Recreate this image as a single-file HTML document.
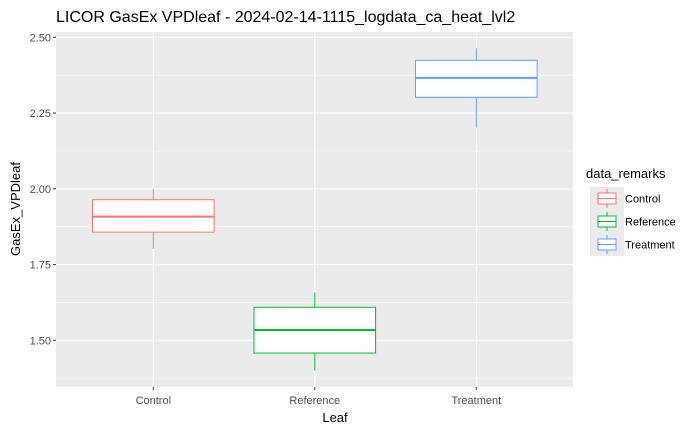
<!DOCTYPE html>
<html><head><meta charset="utf-8"><style>
body{margin:0;background:#fff}
svg{display:block;font-family:"Liberation Sans",Arial,sans-serif}
</style></head><body>
<svg id="chart" width="700" height="432">
<rect x="0" y="0" width="700" height="432" fill="#fff"/>
<text x="56" y="22" font-size="16" fill="#000">LICOR GasEx VPDleaf - 2024-02-14-1115_logdata_ca_heat_lvl2</text>
<rect x="56" y="32" width="517" height="355" fill="#ebebeb"/>
<g id="grid"></g>
<g id="boxes"></g>
<g id="axes"></g>
<text x="335" y="422" font-size="13" text-anchor="middle" fill="#000">Leaf</text>
<text transform="translate(20,209) rotate(-90)" font-size="13" text-anchor="middle" fill="#000">GasEx_VPDleaf</text>
<g id="legend">
<text x="586" y="178" font-size="13" fill="#000">data_remarks</text>
</g>
</svg>
<script>
const categories=["Control","Reference","Treatment"];
const colors=["#F8766D","#00BA38","#619CFF"];
const whiskerLow=[1.802,1.400,2.202];
const q1=[1.857,1.458,2.302];
const median=[1.908,1.534,2.366];
const q3=[1.964,1.609,2.424];
const whiskerHigh=[2.000,1.658,2.464];
const yTicks=[1.50,1.75,2.00,2.25,2.50];
const yTickLabels=["1.50","1.75","2.00","2.25","2.50"];
const NS="http://www.w3.org/2000/svg";
const panelL=56,panelR=573,panelT=32,panelB=387;
function y(v){return 340.3-(v-1.5)*303;}
function x(i){return 153.3+i*161.5;}
const bw=121.6;
function mk(p,tag,a){const e=document.createElementNS(NS,tag);for(const k in a)e.setAttribute(k,a[k]);p.appendChild(e);return e;}
const grid=document.getElementById('grid'),boxes=document.getElementById('boxes'),axes=document.getElementById('axes'),legend=document.getElementById('legend');
// minor gridlines
for(let i=0;i<yTicks.length+1;i++){
  const v=yTicks[0]-0.125+i*0.25;
  const yy=y(v);
  if(yy<panelT||yy>panelB)continue;
  const l=mk(grid,'line',{x1:panelL,x2:panelR,y1:yy,y2:yy,stroke:'#fff','stroke-width':0.6});
  
  
}
yTicks.forEach((v,i)=>{
  const yy=y(v);
  const l=mk(grid,'line',{x1:panelL,x2:panelR,y1:yy,y2:yy,stroke:'#fff','stroke-width':1.1});
  
  
  const t=mk(axes,'line',{x1:panelL-3,x2:panelL,y1:yy,y2:yy,stroke:'#333','stroke-width':1});
  
  
  const tx=mk(axes,'text',{x:panelL-5,y:yy+4,'font-size':11,'text-anchor':'end',fill:'#4d4d4d'});
  tx.textContent=yTickLabels[i];
  
  
});
categories.forEach((c,i)=>{
  const xx=x(i);
  const g=mk(grid,'line',{x1:xx,x2:xx,y1:panelT,y2:panelB,stroke:'#fff','stroke-width':1.1});
  
  
  const t=mk(axes,'line',{x1:xx,x2:xx,y1:panelB,y2:panelB+3,stroke:'#333','stroke-width':1});
  
  
  const tx=mk(axes,'text',{x:xx,y:panelB+17,'font-size':11,'text-anchor':'middle',fill:'#4d4d4d'});
  tx.textContent=c;
  
  
  const g2=mk(boxes,'g',{});
  
  
  mk(g2,'line',{x1:xx,x2:xx,y1:y(whiskerHigh[i]),y2:y(q3[i]),stroke:colors[i],'stroke-width':1});
  mk(g2,'line',{x1:xx,x2:xx,y1:y(q1[i]),y2:y(whiskerLow[i]),stroke:colors[i],'stroke-width':1});
  mk(g2,'rect',{x:xx-bw/2,y:y(q3[i]),width:bw,height:y(q1[i])-y(q3[i]),fill:'#fff',stroke:colors[i],'stroke-width':1});
  mk(g2,'line',{x1:xx-bw/2,x2:xx+bw/2,y1:y(median[i]),y2:y(median[i]),stroke:colors[i],'stroke-width':2});
  // legend
  const ly=187+i*23;
  const lg=mk(legend,'g',{});
  
  
  mk(lg,'rect',{x:590,y:ly,width:34,height:23,fill:'#ebebeb'});
  mk(lg,'line',{x1:607,x2:607,y1:ly+2,y2:ly+21,stroke:colors[i],'stroke-width':1});
  mk(lg,'rect',{x:598,y:ly+6,width:18,height:11,fill:'#fff',stroke:colors[i],'stroke-width':1});
  mk(lg,'line',{x1:598,x2:616,y1:ly+11.5,y2:ly+11.5,stroke:colors[i],'stroke-width':1});
  const lt=mk(lg,'text',{x:625,y:ly+15.5,'font-size':11,fill:'#000'});
  lt.textContent=c;
});
</script>
</body></html>
